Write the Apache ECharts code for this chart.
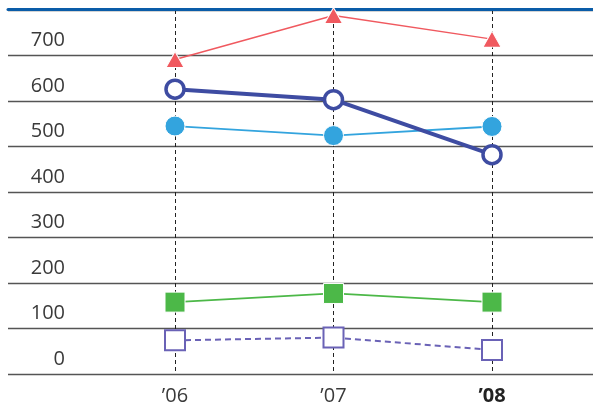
<!DOCTYPE html>
<html>
<head>
<meta charset="utf-8">
<script src="https://cdn.jsdelivr.net/npm/echarts@6/dist/echarts.min.js"></script>
<style>
html,body{margin:0;padding:0;background:#fff;}
#c{width:593px;height:414px;}
</style>
</head>
<body>
<div id="c"></div>
<script>
const categories = ['\u201906', '\u201907', '\u201908'];
const yTickLabels = ['0', '100', '200', '300', '400', '500', '600', '700'];
const redTriangle = [691, 788, 736];
const lightBlueCircle = [545, 524, 544];
const darkBlueRing = [626, 603, 482];
const greenSquare = [158, 177, 158];
const purpleSquare = [74, 80, 53];

const FONT = '"Open Sans", "DejaVu Sans", sans-serif';
const chart = echarts.init(document.getElementById('c'), null, {renderer: 'canvas'});

const TOP = 10, BOTTOM = 40;

chart.setOption({
  animation: false,
  grid: [
    {left: 8, right: 0, top: TOP, bottom: BOTTOM},
    {left: 175, right: 101, top: TOP, bottom: BOTTOM}
  ],
  xAxis: [
    {
      gridIndex: 0, type: 'value', position: 'top', min: 0, max: 1, offset: 1,
      axisLine: {show: true, onZero: false, lineStyle: {color: '#0a5ca8', width: 3}},
      axisTick: {show: false}, axisLabel: {show: false}, splitLine: {show: false}
    },
    {
      gridIndex: 1, type: 'category', data: categories, boundaryGap: false,
      axisLine: {show: false}, axisTick: {show: false},
      axisLabel: {
        margin: 12, fontSize: 20, fontFamily: FONT, color: '#3a3a3a',
        formatter: function (v, i) { return i === categories.length - 1 ? '{b|' + v + '}' : v; },
        rich: {b: {fontSize: 20, fontWeight: 'bold', fontFamily: FONT, color: '#222'}}
      },
      splitLine: {show: true, lineStyle: {color: '#222', type: [4, 3], width: 1}}
    }
  ],
  yAxis: [
    {
      gridIndex: 0, type: 'value', min: 0, max: 800, interval: 100,
      axisLine: {show: false}, axisTick: {show: false},
      axisLabel: {
        inside: true, align: 'right', margin: 57, fontSize: 20, fontFamily: FONT,
        color: '#3a3a3a', verticalAlign: 'bottom', lineHeight: 30,
        formatter: function (v) { const i = Math.round(v / 100); return i < yTickLabels.length ? yTickLabels[i] : ''; }
      },
      splitLine: {show: true, lineStyle: {color: '#555', width: 1.3}}
    },
    {
      gridIndex: 1, type: 'value', min: 0, max: 800, interval: 100, show: false,
      splitLine: {show: false}
    }
  ],
  series: [
    {
      type: 'line', xAxisIndex: 1, yAxisIndex: 1, data: redTriangle, clip: false,
      symbol: 'triangle', symbolSize: [18, 16],
      lineStyle: {color: '#f0595f', width: 1.5},
      itemStyle: {color: '#f0595f', borderColor: '#fff', borderWidth: 1}, z: 3
    },
    {
      type: 'line', xAxisIndex: 1, yAxisIndex: 1, data: lightBlueCircle, clip: false,
      symbol: 'circle', symbolSize: 20,
      lineStyle: {color: '#33a4de', width: 1.8},
      itemStyle: {color: '#33a4de', borderColor: '#fff', borderWidth: 1}, z: 3
    },
    {
      type: 'line', xAxisIndex: 1, yAxisIndex: 1, data: darkBlueRing, clip: false,
      symbol: 'circle', symbolSize: 18,
      lineStyle: {color: '#3e4ca2', width: 4},
      itemStyle: {color: '#fff', borderColor: '#3e4ca2', borderWidth: 3.5}, z: 4
    },
    {
      type: 'line', xAxisIndex: 1, yAxisIndex: 1, data: greenSquare, clip: false,
      symbol: 'rect', symbolSize: 20,
      lineStyle: {color: '#4cb848', width: 1.8},
      itemStyle: {color: '#4cb848', borderColor: '#fff', borderWidth: 1}, z: 3
    },
    {
      type: 'line', xAxisIndex: 1, yAxisIndex: 1, data: purpleSquare, clip: false,
      symbol: 'rect', symbolSize: 20,
      lineStyle: {color: '#6a62b6', width: 2, type: [6, 4]},
      itemStyle: {color: '#fff', borderColor: '#6a62b6', borderWidth: 2}, z: 3
    }
  ]
});
</script>
</body>
</html>
